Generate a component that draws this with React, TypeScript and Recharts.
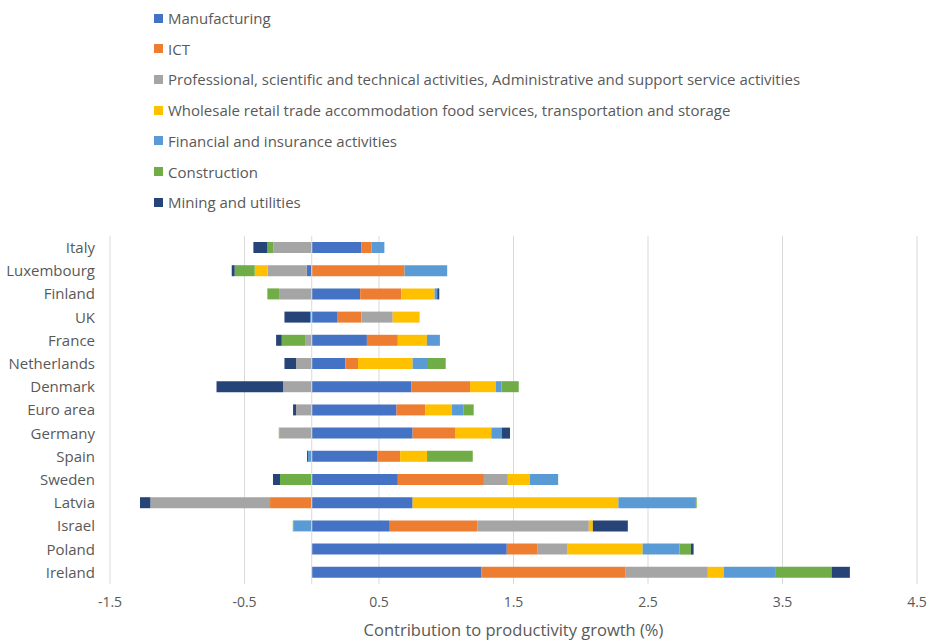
import { BarChart, Bar, XAxis, YAxis, CartesianGrid, Legend, ReferenceLine } from 'recharts';

const countries = ['Italy', 'Luxembourg', 'Finland', 'UK', 'France', 'Netherlands', 'Denmark', 'Euro area', 'Germany', 'Spain', 'Sweden', 'Latvia', 'Israel', 'Poland', 'Ireland'];

const manufacturing = [0.37, -0.037, 0.36, 0.188, 0.41, 0.25, 0.74, 0.63, 0.75, 0.486, 0.64, 0.75, 0.58, 1.45, 1.26];
const ict = [0.075, 0.69, 0.305, 0.181, 0.23, 0.094, 0.437, 0.213, 0.315, 0.171, 0.64, -0.31, 0.65, 0.23, 1.07];
const professional = [-0.285, -0.29, -0.243, 0.233, -0.045, -0.117, -0.213, -0.117, -0.24, 0, 0.178, -0.89, 0.83, 0.223, 0.615];
const wholesale = [0, -0.097, 0.248, 0.2, 0.216, 0.406, 0.193, 0.2, 0.27, 0.2, 0.164, 1.53, 0.03, 0.557, 0.12];
const financial = [0.095, 0.317, 0.02, -0.013, 0.097, 0.107, 0.04, 0.087, 0.077, -0.028, 0.21, 0.57, -0.134, 0.275, 0.38];
const construction = [-0.045, -0.149, -0.087, 0, -0.178, 0.139, 0.129, 0.074, -0.005, 0.34, -0.236, 0.012, -0.007, 0.084, 0.42];
const mining = [-0.104, -0.022, 0.015, -0.19, -0.042, -0.086, -0.495, -0.022, 0.062, -0.007, -0.052, -0.077, 0.26, 0.02, 0.136];

const xTicks = [-1.5, -0.5, 0.5, 1.5, 2.5, 3.5, 4.5];

const series = [
  { key: 'manufacturing', name: 'Manufacturing', color: '#4472C4', values: manufacturing },
  { key: 'ict', name: 'ICT', color: '#ED7D31', values: ict },
  { key: 'professional', name: 'Professional, scientific and technical activities, Administrative and support service activities', color: '#A5A5A5', values: professional },
  { key: 'wholesale', name: 'Wholesale retail trade accommodation food services, transportation and storage', color: '#FFC000', values: wholesale },
  { key: 'financial', name: 'Financial and insurance activities', color: '#5B9BD5', values: financial },
  { key: 'construction', name: 'Construction', color: '#70AD47', values: construction },
  { key: 'mining', name: 'Mining and utilities', color: '#264478', values: mining },
];

const data = countries.map((country, i) => {
  const row: Record<string, string | number> = { country };
  series.forEach((s) => {
    row[s.key] = s.values[i];
  });
  return row;
});

const FONT = '"Open Sans", Lato, sans-serif';
const TEXT = '#595959';

const renderLegend = () => (
  <div style={{ height: 220, position: 'relative', fontFamily: FONT }}>
    {series.map((s, i) => (
      <div
        key={s.key}
        style={{
          position: 'absolute',
          left: 154,
          top: 9 + i * 30.7,
          height: 18,
          display: 'flex',
          alignItems: 'center',
          whiteSpace: 'nowrap',
          fontSize: 15,
          color: TEXT,
        }}
      >
        <span style={{ display: 'inline-block', width: 9, height: 9, background: s.color, marginRight: 5 }} />
        {s.name}
      </div>
    ))}
  </div>
);

export default function App() {
  return (
    <div style={{ position: 'absolute', left: 0, top: 0 }}>
      <BarChart
        width={928}
        height={641}
        data={data}
        layout="vertical"
        stackOffset="sign"
        margin={{ top: 16, right: 11, bottom: 0, left: 0 }}
        barSize={11}
      >
        <Legend
          layout="horizontal"
          verticalAlign="top"
          align="left"
          wrapperStyle={{ top: 0, left: 0, width: 928 }}
          content={renderLegend}
        />
        <CartesianGrid horizontal={false} stroke="#d9d9d9" />
        <XAxis
          type="number"
          domain={[-1.5, 4.5]}
          ticks={xTicks}
          axisLine={false}
          tickLine={false}
          tickSize={0}
          tickMargin={13}
          height={57}
          tick={{ fill: TEXT, fontSize: 14, fontFamily: FONT }}
          label={{ value: 'Contribution to productivity growth (%)', position: 'insideBottom', offset: 5, fill: TEXT, fontSize: 16.5, fontFamily: FONT }}
        />
        <YAxis
          type="category"
          dataKey="country"
          width={110}
          axisLine={false}
          tickLine={false}
          tickSize={0}
          tickMargin={15}
          interval={0}
          tick={{ fill: TEXT, fontSize: 15, fontFamily: FONT }}
        />
        <ReferenceLine x={0} stroke="#d9d9d9" />
        {series.map((s) => (
          <Bar key={s.key} dataKey={s.key} name={s.name} stackId="a" fill={s.color} isAnimationActive={false} />
        ))}
      </BarChart>
    </div>
  );
}
